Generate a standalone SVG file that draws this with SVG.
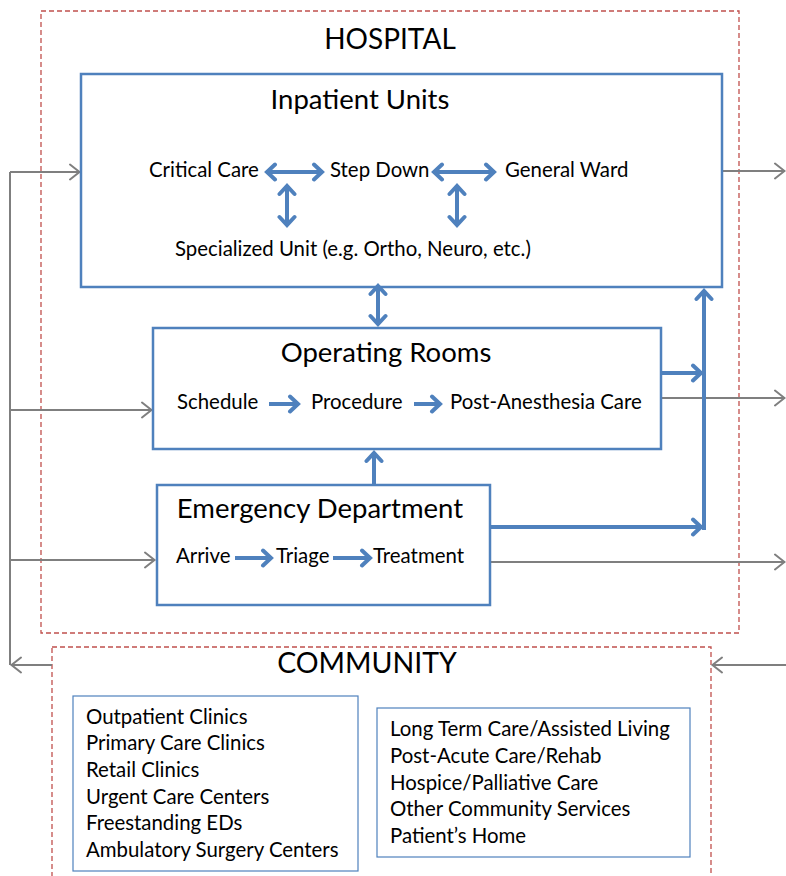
<svg xmlns="http://www.w3.org/2000/svg" width="786" height="876" viewBox="0 0 786 876">
  <style>
    text { font-family: Lato, "Liberation Sans", sans-serif; fill: #000; }
    .title { font-size: 28.5px; text-anchor: middle; }
    .head { font-size: 27.5px; text-anchor: middle; }
    .item { font-size: 20.4px; }
    .list { font-size: 20.4px; }
    .zone { fill: none; stroke: #c0504d; stroke-width: 1.3; stroke-dasharray: 5 3; }
    .unit { fill: #fff; stroke: #4f81bd; stroke-width: 2.5; }
    .panel { fill: #fff; stroke: #4f81bd; stroke-width: 1.2; }
    .flow { fill: none; stroke: #4f81bd; stroke-width: 4; }
    .link { fill: none; stroke: #7f7f7f; stroke-width: 2; }
  </style>
  <defs>
    <marker id="blueHead" viewBox="-12 -10 14 20" refX="0" refY="0" markerWidth="14" markerHeight="20" markerUnits="userSpaceOnUse" orient="auto-start-reverse">
      <path d="M-9,-7.5 L-1,0 L-9,7.5" fill="none" stroke="#4f81bd" stroke-width="4" stroke-linecap="round"/>
    </marker>
    <marker id="grayHead" viewBox="-12 -10 14 20" refX="0" refY="0" markerWidth="14" markerHeight="20" markerUnits="userSpaceOnUse" orient="auto-start-reverse">
      <path d="M-10,-7.5 L-0.5,0 L-10,7.5" fill="none" stroke="#7f7f7f" stroke-width="2" stroke-linecap="round"/>
    </marker>
  </defs>

  <!-- outer zones -->
  <g id="hospital">
    <rect class="zone" x="41" y="11" width="698" height="622"/>
    <text class="title" x="390" y="49" style="font-size:28px">HOSPITAL</text>
  </g>
  <g id="community">
    <rect class="zone" x="52" y="647" width="659" height="240"/>
    <text class="title" x="367" y="673">COMMUNITY</text>
  </g>

  <!-- grey patient-flow links -->
  <g id="connectors-outer">
    <path class="link" d="M10,172 V665"/>
    <path class="link" d="M10,172 H80" marker-end="url(#grayHead)"/>
    <path class="link" d="M10,410 H152" marker-end="url(#grayHead)"/>
    <path class="link" d="M10,560 H155" marker-end="url(#grayHead)"/>
    <path class="link" d="M52,665 H11" marker-end="url(#grayHead)"/>
    <path class="link" d="M722,171 H785" marker-end="url(#grayHead)"/>
    <path class="link" d="M662,398 H785" marker-end="url(#grayHead)"/>
    <path class="link" d="M491,562 H785" marker-end="url(#grayHead)"/>
    <path class="link" d="M786,665 H712" marker-end="url(#grayHead)"/>
  </g>

  <!-- hospital units -->
  <g id="inpatient-units">
    <rect class="unit" x="81" y="74" width="641" height="213"/>
    <text class="head" x="360" y="109">Inpatient Units</text>
    <text class="item" x="149" y="177">Critical Care</text>
    <text class="item" x="330" y="177">Step Down</text>
    <text class="item" x="505" y="177">General Ward</text>
    <text class="item" x="175" y="256">Specialized Unit (e.g. Ortho, Neuro, etc.)</text>
  </g>
  <g id="operating-rooms">
    <rect class="unit" x="153" y="328" width="508" height="121"/>
    <text class="head" x="386" y="362">Operating Rooms</text>
    <text class="item" x="177" y="409">Schedule</text>
    <text class="item" x="311" y="409">Procedure</text>
    <text class="item" x="450" y="409">Post-Anesthesia Care</text>
  </g>
  <g id="emergency-department">
    <rect class="unit" x="157" y="485" width="333" height="120"/>
    <text class="head" x="320" y="518">Emergency Department</text>
    <text class="item" x="176" y="563">Arrive</text>
    <text class="item" x="276" y="563">Triage</text>
    <text class="item" x="373" y="563">Treatment</text>
  </g>

  <!-- community services -->
  <g id="community-sites">
    <rect class="panel" x="73" y="696" width="285" height="175"/>
    <text class="list" x="86" y="724">Outpatient Clinics</text>
    <text class="list" x="86" y="750">Primary Care Clinics</text>
    <text class="list" x="86" y="777">Retail Clinics</text>
    <text class="list" x="86" y="804">Urgent Care Centers</text>
    <text class="list" x="86" y="830">Freestanding EDs</text>
    <text class="list" x="86" y="857">Ambulatory Surgery Centers</text>
  </g>
  <g id="post-acute-sites">
    <rect class="panel" x="377" y="708" width="313" height="149"/>
    <text class="list" x="390" y="736">Long Term Care/Assisted Living</text>
    <text class="list" x="390" y="763">Post-Acute Care/Rehab</text>
    <text class="list" x="390" y="790">Hospice/Palliative Care</text>
    <text class="list" x="390" y="816">Other Community Services</text>
    <text class="list" x="390" y="843">Patient’s Home</text>
  </g>

  <!-- blue internal flows -->
  <g id="connectors-inner">
    <path class="flow" d="M266,172 H323" marker-start="url(#blueHead)" marker-end="url(#blueHead)"/>
    <path class="flow" d="M433,172 H495" marker-start="url(#blueHead)" marker-end="url(#blueHead)"/>
    <path class="flow" d="M287,185 V226" marker-start="url(#blueHead)" marker-end="url(#blueHead)"/>
    <path class="flow" d="M457,185 V226" marker-start="url(#blueHead)" marker-end="url(#blueHead)"/>
    <path class="flow" d="M378,285 V325" marker-start="url(#blueHead)" marker-end="url(#blueHead)"/>
    <path class="flow" d="M269,404 H299" marker-end="url(#blueHead)"/>
    <path class="flow" d="M414,404 H441" marker-end="url(#blueHead)"/>
    <path class="flow" d="M235,558 H272" marker-end="url(#blueHead)"/>
    <path class="flow" d="M333,558 H371" marker-end="url(#blueHead)"/>
    <path class="flow" d="M374,484 V452" marker-end="url(#blueHead)"/>
    <path class="flow" d="M661,373 H702" marker-end="url(#blueHead)"/>
    <path class="flow" d="M490,527 H702" marker-end="url(#blueHead)"/>
    <path class="flow" d="M704,530 V290" marker-end="url(#blueHead)"/>
  </g>
</svg>
